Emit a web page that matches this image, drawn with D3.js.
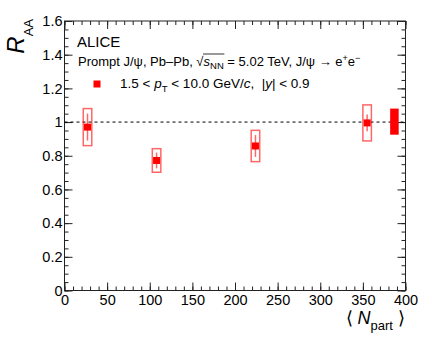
<!DOCTYPE html>
<html>
<head>
<meta charset="utf-8">
<script src="https://cdn.jsdelivr.net/npm/d3@7"></script>
<style>
  body { margin: 0; background: #fff; }
  text { font-family: "Liberation Sans", Arial, Helvetica, sans-serif; fill: #000; white-space: pre; }
</style>
</head>
<body>
<div id="chart"></div>
<script>
// prompt J/psi R_AA vs <Npart>, ALICE Pb-Pb 5.02 TeV

var npart = [27, 108, 224, 355];
var raa = [0.97, 0.772, 0.858, 0.995];
var statErr = [0.08, 0.047, 0.065, 0.05];
var systErr = [0.11, 0.07, 0.093, 0.107];

// global uncertainty box drawn at unity
var globalN = 387;
var globalUp = 0.08;
var globalDown = 0.075;

var xTicks = [0, 50, 100, 150, 200, 250, 300, 350, 400];
var yTicks = [0, 0.2, 0.4, 0.6, 0.8, 1, 1.2, 1.4, 1.6];

var width = 432;
var height = 338;
var red = "#ff0000";

var svg = d3.select("#chart").append("svg")
  .attr("width", width)
  .attr("height", height);

svg.append("rect")
  .attr("width", width)
  .attr("height", height)
  .attr("fill", "#fff");

var x = d3.scaleLinear().domain([0, 400]).range([64.5, 405.5]);
var y = d3.scaleLinear().domain([0, 1.6]).range([290.5, 21]);

//minor ticks
var xMinor = d3.range(0, 401, 10);
var yMinor = d3.range(0, 1.601, 0.05);

function styleAxis(g) {
  g.select(".domain").remove();
  g.selectAll(".tick line").attr("stroke", "#222").attr("stroke-width", 1);
  g.selectAll("text")
    .style("font-family", "'Liberation Sans', Arial, Helvetica, sans-serif")
    .style("font-size", "14.5px")
    .attr("fill", "#000");
}

svg.append("g").attr("transform", "translate(0," + y(0) + ")")
  .call(d3.axisBottom(x).tickValues(xMinor).tickSize(-4).tickFormat(""))
  .call(styleAxis);
svg.append("g").attr("transform", "translate(0," + y(0) + ")")
  .call(d3.axisBottom(x).tickValues(xTicks).tickSize(-8).tickPadding(4).tickFormat(d3.format("d")))
  .call(styleAxis);
svg.append("g").attr("transform", "translate(0," + y(1.6) + ")")
  .call(d3.axisTop(x).tickValues(xMinor).tickSize(-4).tickFormat(""))
  .call(styleAxis);
svg.append("g").attr("transform", "translate(0," + y(1.6) + ")")
  .call(d3.axisTop(x).tickValues(xTicks).tickSize(-8).tickFormat(""))
  .call(styleAxis);

svg.append("g").attr("transform", "translate(" + x(0) + ",0)")
  .call(d3.axisLeft(y).tickValues(yMinor).tickSize(-4).tickFormat(""))
  .call(styleAxis);
svg.append("g").attr("transform", "translate(" + x(0) + ",0)")
  .call(d3.axisLeft(y).tickValues(yTicks).tickSize(-8).tickPadding(2).tickFormat(function(d) { return d === 0 || d === 1 ? d3.format("d")(d) : d3.format(".1f")(d); }))
  .call(styleAxis);
svg.append("g").attr("transform", "translate(" + x(400) + ",0)")
  .call(d3.axisRight(y).tickValues(yMinor).tickSize(-4).tickFormat(""))
  .call(styleAxis);
svg.append("g").attr("transform", "translate(" + x(400) + ",0)")
  .call(d3.axisRight(y).tickValues(yTicks).tickSize(-8).tickFormat(""))
  .call(styleAxis);

//frame
svg.append("rect")
  .attr("x", x(0))
  .attr("y", y(1.6))
  .attr("width", x(400) - x(0))
  .attr("height", y(0) - y(1.6))
  .attr("fill", "none")
  .attr("stroke", "#222")
  .attr("stroke-width", 1);

//unity line
svg.append("line")
  .attr("x1", x(0)).attr("x2", x(400))
  .attr("y1", y(1)).attr("y2", y(1))
  .attr("stroke", "#000")
  .attr("stroke-width", 1)
  .attr("stroke-dasharray", "3,3");

var pts = npart.map(function(n, i) {
  return {n: n, v: raa[i], stat: statErr[i], syst: systErr[i]};
});

//systematic boxes
svg.selectAll(".syst").data(pts).enter().append("rect")
  .attr("class", "syst")
  .attr("x", function(d) { return x(d.n - 5); })
  .attr("width", function(d) { return x(d.n + 5) - x(d.n - 5); })
  .attr("y", function(d) { return y(d.v + d.syst); })
  .attr("height", function(d) { return y(d.v - d.syst) - y(d.v + d.syst); })
  .attr("fill", "none")
  .attr("stroke", red)
  .attr("stroke-opacity", 0.6)
  .attr("stroke-width", 1.5);

//stat error bars
svg.selectAll(".stat").data(pts).enter().append("line")
  .attr("class", "stat")
  .attr("x1", function(d) { return x(d.n); })
  .attr("x2", function(d) { return x(d.n); })
  .attr("y1", function(d) { return y(d.v + d.stat); })
  .attr("y2", function(d) { return y(d.v - d.stat); })
  .attr("stroke", red)
  .attr("stroke-opacity", 0.6)
  .attr("stroke-width", 1.5);

//markers
svg.selectAll(".marker").data(pts).enter().append("rect")
  .attr("class", "marker")
  .attr("x", function(d) { return x(d.n) - 3.5; })
  .attr("y", function(d) { return y(d.v) - 3.5; })
  .attr("width", 7)
  .attr("height", 7)
  .attr("fill", red);

//global uncertainty
svg.append("rect")
  .attr("x", x(globalN - 5))
  .attr("width", x(globalN + 5) - x(globalN - 5))
  .attr("y", y(1 + globalUp))
  .attr("height", y(1 - globalDown) - y(1 + globalUp))
  .attr("fill", red);

//y title
var yTitle = svg.append("text")
  .attr("transform", "translate(24,19) rotate(-90)")
  .attr("text-anchor", "end");
yTitle.append("tspan").style("font-size", "24px").style("font-style", "italic").text("R");
yTitle.append("tspan").style("font-size", "13px").attr("dy", 9).text("AA");

//x title
var xTitle = svg.append("text")
  .attr("x", 405)
  .attr("y", 324)
  .attr("text-anchor", "end")
  .style("font-size", "18px");
xTitle.append("tspan").text("\u27E8 ");
xTitle.append("tspan").style("font-style", "italic").text("N");
xTitle.append("tspan").style("font-size", "13px").attr("dy", 6).text("part");
xTitle.append("tspan").attr("dy", -6).text(" \u27E9");

//labels
svg.append("text")
  .attr("x", 77)
  .attr("y", 47)
  .style("font-size", "15px")
  .text("ALICE");

var line2 = svg.append("text")
  .attr("x", 78)
  .attr("y", 66)
  .style("font-size", "13px");
line2.append("tspan").text("Prompt J/\u03C8, Pb\u2013Pb, \u221A");
var sTs = line2.append("tspan").style("font-style", "italic").text("s");
var nnTs = line2.append("tspan").style("font-size", "9.5px").attr("dy", 3).text("NN");
line2.append("tspan").attr("dy", -3).text(" = 5.02 TeV, J/\u03C8 \u2192 e");
line2.append("tspan").style("font-size", "9px").attr("dy", -5).text("+");
line2.append("tspan").attr("dy", 5).text("e");
line2.append("tspan").style("font-size", "9px").attr("dy", -5).text("\u2212");

//overline of the square root
var b1 = sTs.node().getBBox();
var b2 = nnTs.node().getBBox();
svg.append("line")
  .attr("x1", b1.x - 0.5)
  .attr("x2", b2.x + b2.width + 0.5)
  .attr("y1", 54)
  .attr("y2", 54)
  .attr("stroke", "#000")
  .attr("stroke-width", 0.8);

//legend
svg.append("rect")
  .attr("x", 93.5)
  .attr("y", 80.5)
  .attr("width", 7)
  .attr("height", 7)
  .attr("fill", red);

var leg = svg.append("text")
  .attr("x", 120)
  .attr("y", 88)
  .style("font-size", "13.5px");
leg.append("tspan").text("1.5 < ");
leg.append("tspan").style("font-style", "italic").text("p");
leg.append("tspan").style("font-size", "9.5px").attr("dy", 4).text("T");
leg.append("tspan").attr("dy", -4).text(" < 10.0 GeV/");
leg.append("tspan").style("font-style", "italic").text("c");
leg.append("tspan").text(",  |");
leg.append("tspan").style("font-style", "italic").text("y");
leg.append("tspan").text("| < 0.9");
</script>
</body>
</html>
